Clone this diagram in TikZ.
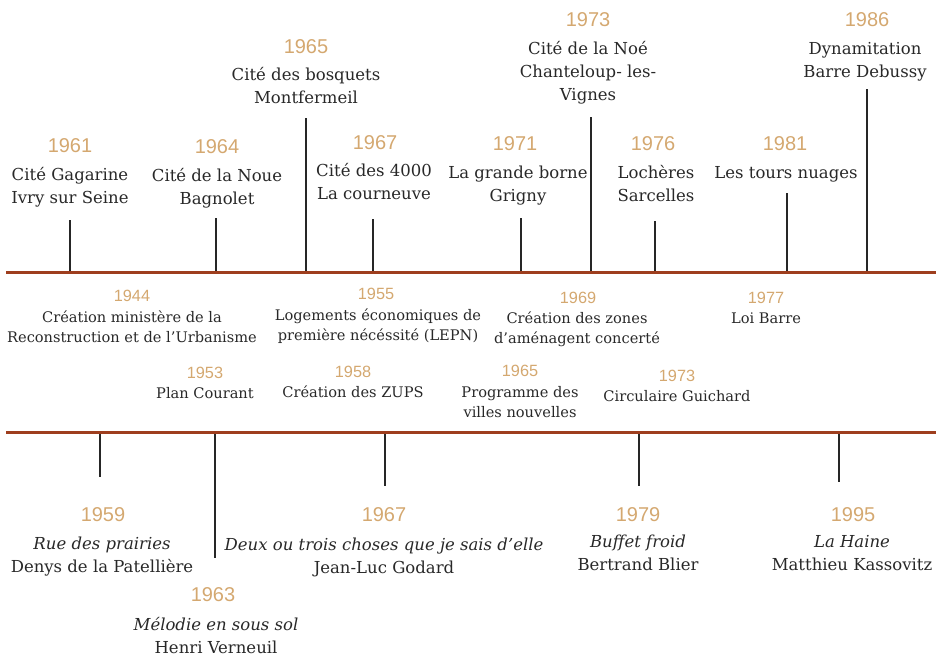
\documentclass[tikz,border=0pt]{standalone}
\usepackage{fontspec}
\setmainfont{DejaVu Serif}
\newfontfamily\yearfont{Liberation Sans}
\usetikzlibrary{positioning}

\definecolor{yeartan}{RGB}{212,168,112}
\definecolor{axisbrown}{RGB}{158,62,30}
\definecolor{inkgray}{RGB}{40,40,40}

\begin{document}
\begin{tikzpicture}[
  x=1pt, y=-1pt,
  every node/.style={inner sep=0pt, anchor=base, align=center, text=inkgray},
  year/.style={font=\yearfont\fontsize{20}{24}\selectfont, text=yeartan},
  smallyear/.style={font=\yearfont\fontsize{16.3}{20}\selectfont, text=yeartan},
  place/.style={font=\fontsize{16.5}{23}\selectfont},
  event/.style={font=\fontsize{14.6}{20}\selectfont},
  axis/.style={draw=axisbrown, line width=3pt},
  tick/.style={draw=black!85, line width=2.6pt}]

  \useasboundingbox (0,0) rectangle (936,657);

  % the two time lines
  \coordinate (topL) at (6,272);
  \coordinate (topR) at (936,272);
  \coordinate (botL) at (6,432);
  \coordinate (botR) at (936,432);

  % cites, above the upper line (text placed by its last line)
  \node[year] (y61) at (70,152) {1961};
  \node[place] (c61) at (70,203) {Cité Gagarine\\Ivry sur Seine};
  \node[year] (y64) at (217,153) {1964};
  \node[place] (c64) at (217,204) {Cité de la Noue\\Bagnolet};
  \node[year] (y65) at (306,53) {1965};
  \node[place] (c65) at (306,103) {Cité des bosquets\\Montfermeil};
  \node[year] (y67) at (375,149) {1967};
  \node[place] (c67) at (374,199) {Cité des 4000\\La courneuve};
  \node[year] (y71) at (515,150) {1971};
  \node[place] (c71) at (518,201) {La grande borne\\Grigny};
  \node[year] (y73) at (588,26) {1973};
  \node[place] (c73) at (588,100) {Cité de la Noé\\Chanteloup- les-\\Vignes};
  \node[year] (y76) at (653,150) {1976};
  \node[place] (c76) at (656,201) {Lochères\\Sarcelles};
  \node[year] (y81) at (785,150) {1981};
  \node[place] (c81) at (786,178) {Les tours nuages};
  \node[year] (y86) at (867,26) {1986};
  \node[place] (c86) at (865,77) {Dynamitation\\Barre Debussy};

  % laws, between the lines
  \node[smallyear] (y44) at (132,301) {1944};
  \node[event] (e44) at (132,342) {Création ministère de la\\Reconstruction et de l’Urbanisme};
  \node[smallyear] (y55) at (376,299) {1955};
  \node[event] (e55) at (378,340) {Logements économiques de\\première nécéssité (LEPN)};
  \node[smallyear] (y69) at (578,303) {1969};
  \node[event] (e69) at (577,343) {Création des zones\\d’aménagent concerté};
  \node[smallyear] (y77) at (766,303) {1977};
  \node[event] (e77) at (766,323) {Loi Barre};
  \node[smallyear] (y53) at (205,378) {1953};
  \node[event] (e53) at (205,398) {Plan Courant};
  \node[smallyear] (y58) at (353,377) {1958};
  \node[event] (e58) at (353,397) {Création des ZUPS};
  \node[smallyear] (y65b) at (520,376) {1965};
  \node[event] (e65) at (520,417) {Programme des\\villes nouvelles};
  \node[smallyear] (y73b) at (677,381) {1973};
  \node[event] (e73) at (677,401) {Circulaire Guichard};

  % films, below the lower line
  \node[year] (y59) at (103,521) {1959};
  \node[place] (f59) at (102,572) {\textit{Rue des prairies}\\Denys de la Patellière};
  \node[year] (y63) at (213,601) {1963};
  \node[place] (f63) at (216,653) {\textit{Mélodie en sous sol}\\Henri Verneuil};
  \node[year] (y67b) at (384,521) {1967};
  \node[place] (f67) at (384,573) {\textit{Deux ou trois choses que je sais d’elle}\\Jean-Luc Godard};
  \node[year] (y79) at (638,521) {1979};
  \node[place] (f79) at (638,570) {\textit{Buffet froid}\\Bertrand Blier};
  \node[year] (y95) at (853,521) {1995};
  \node[place] (f95) at (852,570) {\textit{La Haine}\\Matthieu Kassovitz};

  % ticks
  \foreach \name/\x/\y in {t61/70/220, t64/216/218, t65/306/118, t67/373/219,
      t71/521/218, t73/591/117, t76/655/221, t81/787/193, t86/867/89}{
    \coordinate (\name a) at (\x,272);
    \coordinate (\name b) at (\x,\y);
    \draw[tick] (\name a) -- (\name b);
  }
  \foreach \name/\x/\y in {b59/100/477, b63/215/558, b67/385/486,
      b79/639/486, b95/839/482}{
    \coordinate (\name a) at (\x,432);
    \coordinate (\name b) at (\x,\y);
    \draw[tick] (\name a) -- (\name b);
  }

  \draw[axis] (topL) -- (topR);
  \draw[axis] (botL) -- (botR);
\end{tikzpicture}
\end{document}
